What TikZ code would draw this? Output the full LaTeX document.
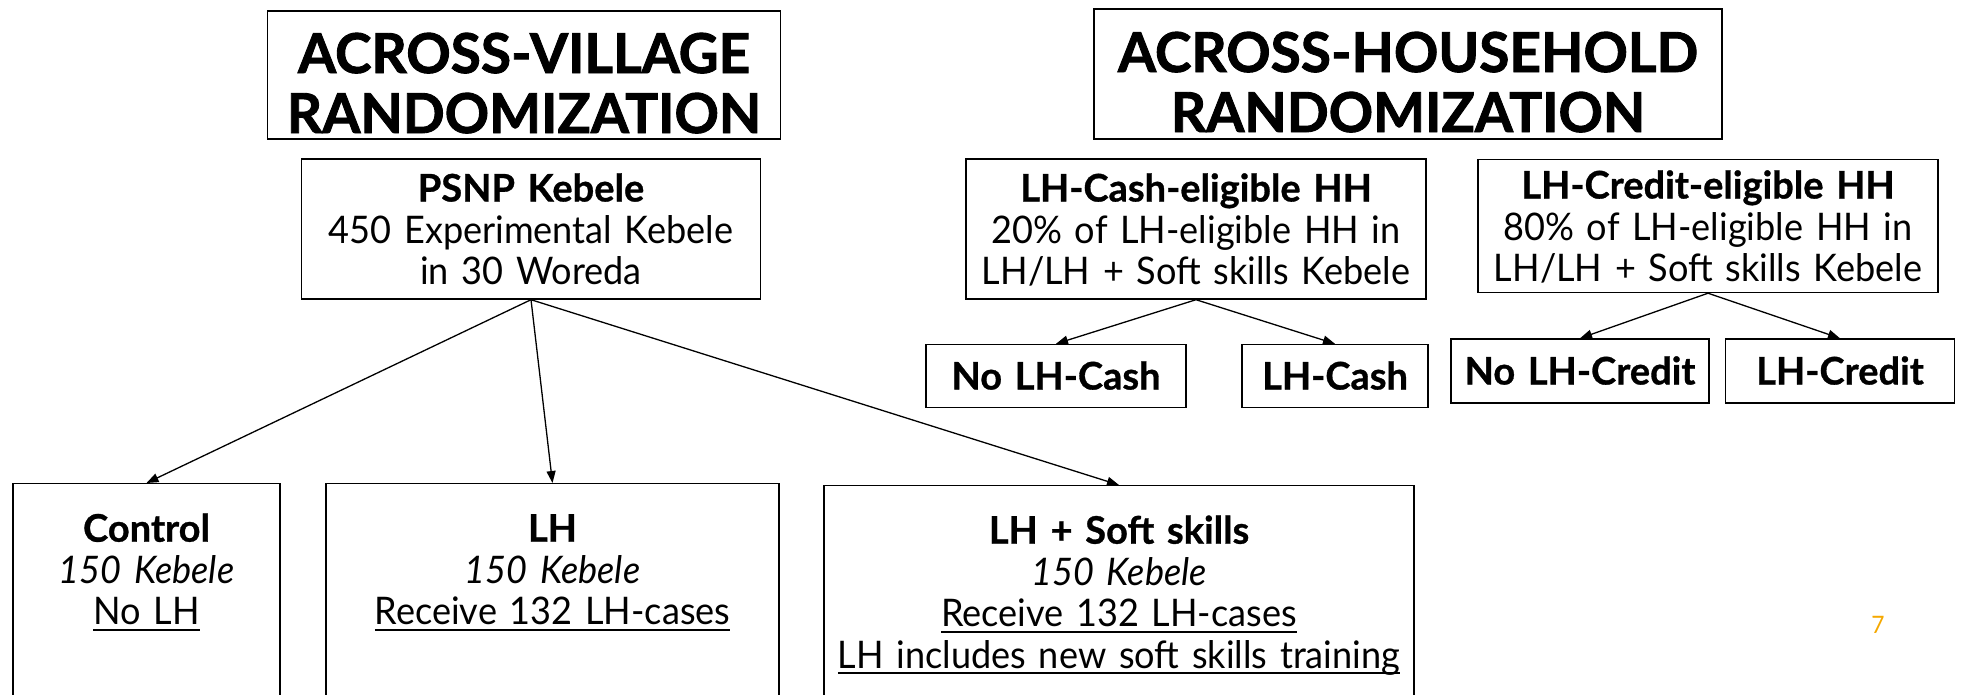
\documentclass[tikz,border=0pt]{standalone}
\usepackage{fontspec}
\setmainfont{Lato}[
  UprightFeatures={FakeStretch=0.95},
  ItalicFeatures={FakeStretch=0.95},
  BoldFeatures={FakeStretch=1.0, FakeBold=0.8}]
\newfontfamily\headfam{Lato}[BoldFeatures={FakeBold=1.6}]
\usetikzlibrary{arrows.meta}
\definecolor{pagenum}{RGB}{245,168,0}
\newcommand{\headfont}{\fontsize{55}{60}\selectfont\headfam\bfseries}
\newcommand{\boxfont}{\fontsize{38}{41.5}\selectfont}
\newsavebox{\undlbox}
\newcommand{\undl}[1]{\leavevmode\sbox{\undlbox}{#1}\rlap{\vrule height -4pt depth 6pt width \wd\undlbox}\usebox{\undlbox}}
\tikzset{
  box/.style={draw, line width=1.4pt, align=center, inner sep=0pt, font=\boxfont, text height=32pt, text depth=87pt},
  headbox/.style={box, font=\headfont, text height=56pt, text depth=60pt},
  smallbox/.style={box, font=\boxfont\bfseries, text height=27pt, text depth=0pt},
  armbox/.style={box, anchor=north, inner ysep=28pt, text height=30pt, text depth=260pt},
  arr/.style={-{Triangle[length=12pt,width=9pt]}, line width=1.3pt}
}
\begin{document}
\begin{tikzpicture}[x=1pt,y=-1pt]
    \useasboundingbox (0,0) rectangle (1967,694);

    % 見出し
    \node[headbox, text width=513, minimum height=128] (village) at (524,75) {ACROSS-VILLAGE\\RANDOMIZATION};
    \node[headbox, text width=628, minimum height=130] (household) at (1408,74) {ACROSS-HOUSEHOLD\\RANDOMIZATION};

    % 村レベル
    \node[box, text width=459, minimum height=140] (psnp) at (531,229) {\textbf{PSNP Kebele}\\450 Experimental Kebele\\in 30 Woreda};

    % 世帯レベル
    \node[box, text width=460, minimum height=140] (casheli) at (1196,229) {\textbf{LH-Cash-eligible HH}\\20\% of LH-eligible HH in\\LH/LH + Soft skills Kebele};
    \node[box, text width=460, minimum height=133] (crediteli) at (1708,226) {\textbf{LH-Credit-eligible HH}\\80\% of LH-eligible HH in\\LH/LH + Soft skills Kebele};

    \node[smallbox, text width=260, minimum height=63] (nocash) at (1056,376) {No LH-Cash};
    \node[smallbox, text width=186, minimum height=63] (cash) at (1335,376) {LH-Cash};
    \node[smallbox, text width=258, minimum height=64] (nocredit) at (1580,371) {No LH-Credit};
    \node[smallbox, text width=229, minimum height=64] (credit) at (1840,371) {LH-Credit};

    % 3つの群
    \node[armbox, text width=267] (control) at (146.5,483) {\textbf{Control}\\\textit{150 Kebele}\\\undl{No LH}};
    \node[armbox, text width=453] (lh) at (552.5,483) {\textbf{LH}\\\textit{150 Kebele}\\\undl{Receive 132 LH-cases}};
    \node[armbox, text width=590] (soft) at (1119,485) {\textbf{LH + Soft skills}\\\textit{150 Kebele}\\\undl{Receive 132 LH-cases}\\\undl{LH includes new soft skills training}};

    % ページ番号
    \node[font=\fontsize{24}{26}\selectfont, text=pagenum] (page) at (1878,625) {7};

    % 矢印
    \draw[arr] (psnp.south) -- (control.north);
    \draw[arr] (psnp.south) -- (lh.north);
    \draw[arr] (psnp.south) -- (soft.north);
    \draw[arr] (casheli.south) -- (nocash.north);
    \draw[arr] (casheli.south) -- (cash.north);
    \draw[arr] (crediteli.south) -- (nocredit.north);
    \draw[arr] (crediteli.south) -- (credit.north);
\end{tikzpicture}
\end{document}
